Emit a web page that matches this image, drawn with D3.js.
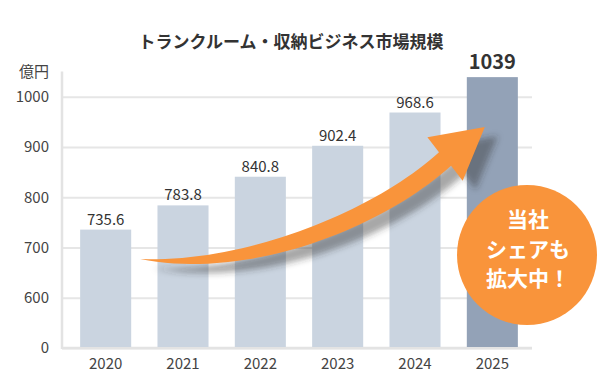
<!DOCTYPE html>
<html>
<head>
<meta charset="utf-8">
<script src="https://cdn.jsdelivr.net/npm/d3@7"></script>
<style>
body { margin: 0; background: #fff; }
svg { display: block; font-family: "Noto Sans CJK JP", "Noto Sans", sans-serif; }
</style>
</head>
<body>
<svg width="601" height="388"></svg>
<script>
//*
//* Data
//*

var years = ["2020", "2021", "2022", "2023", "2024", "2025"];
var values = [735.6, 783.8, 840.8, 902.4, 968.6, 1039];
var valueLabels = ["735.6", "783.8", "840.8", "902.4", "968.6", "1039"];
var yTicks = [500, 600, 700, 800, 900, 1000];
var yTickLabels = ["0", "600", "700", "800", "900", "1000"];
var title = "トランクルーム・収納ビジネス市場規模";
var unit = "億円";
var badgeLines = ["当社", "シェアも", "拡大中！"];

//*
//* Scales
//*

var svg = d3.select("svg");
var plotLeft = 62, plotRight = 532, plotBottom = 348, plotTop = 71.6;

var x = d3.scaleBand()
	.domain(years)
	.range([67, 531])
	.paddingInner(0.34)
	.paddingOuter(0.17);

var y = d3.scaleLinear()
	.domain([500, 1050])
	.range([plotBottom, plotTop]);

/* title */
svg.append("text")
	.attr("x", 291)
	.attr("y", 48)
	.attr("text-anchor", "middle")
	.attr("font-size", 17)
	.attr("font-weight", 700)
	.attr("fill", "#333")
	.text(title);

/* unit */
svg.append("text")
	.attr("x", 49)
	.attr("y", 77)
	.attr("text-anchor", "end")
	.attr("font-size", 15)
	.attr("fill", "#444")
	.text(unit);

/* y axis with gridlines */
var yAxis = svg.append("g")
	.attr("transform", "translate(" + plotLeft + ",0)")
	.call(d3.axisLeft(y)
		.tickValues(yTicks)
		.tickSize(-(plotRight - plotLeft))
		.tickPadding(13)
		.tickFormat(function(d, i) { return yTickLabels[i]; }));
yAxis.select(".domain").remove();
yAxis.selectAll(".tick line")
	.attr("stroke", "#e6e6e6")
	.attr("stroke-width", 2);
yAxis.selectAll(".tick text")
	.attr("font-family", "'Noto Sans CJK JP', 'Noto Sans', sans-serif")
	.attr("font-size", 15)
	.attr("fill", "#444");

/* left axis line and baseline */
svg.append("line")
	.attr("x1", plotLeft).attr("x2", plotLeft)
	.attr("y1", plotTop).attr("y2", plotBottom + 1)
	.attr("stroke", "#e3e3e3")
	.attr("stroke-width", 2.5);
svg.append("line")
	.attr("x1", plotLeft).attr("x2", plotRight)
	.attr("y1", plotBottom).attr("y2", plotBottom)
	.attr("stroke", "#e3e3e3")
	.attr("stroke-width", 2.5);

/* bars */
svg.selectAll("rect.bar")
	.data(values)
	.enter()
	.append("rect")
	.attr("class", "bar")
	.attr("x", function(d, i) { return x(years[i]); })
	.attr("y", function(d) { return y(d); })
	.attr("width", x.bandwidth())
	.attr("height", function(d) { return plotBottom - 1 - y(d); })
	.attr("fill", function(d, i) { return i === years.length - 1 ? "#93a2b7" : "#cad4e0"; });

/* value labels */
svg.selectAll("text.val")
	.data(values)
	.enter()
	.append("text")
	.attr("class", "val")
	.attr("x", function(d, i) { return x(years[i]) + x.bandwidth() / 2; })
	.attr("y", function(d, i) { return y(d) - (i === years.length - 1 ? 8 : 5); })
	.attr("text-anchor", "middle")
	.attr("font-size", function(d, i) { return i === years.length - 1 ? 20 : 15; })
	.attr("font-weight", function(d, i) { return i === years.length - 1 ? 700 : 400; })
	.attr("fill", "#333")
	.text(function(d, i) { return valueLabels[i]; });

/* year labels */
svg.selectAll("text.year")
	.data(years)
	.enter()
	.append("text")
	.attr("class", "year")
	.attr("x", function(d) { return x(d) + x.bandwidth() / 2; })
	.attr("y", 369)
	.attr("text-anchor", "middle")
	.attr("font-size", 15)
	.attr("fill", "#444")
	.text(function(d) { return d; });

//*
//* Arrow (decoration)
//*

function bez(p0, p1, p2, p3, t) {
	var u = 1 - t;
	return [
		u*u*u*p0[0] + 3*u*u*t*p1[0] + 3*u*t*t*p2[0] + t*t*t*p3[0],
		u*u*u*p0[1] + 3*u*u*t*p1[1] + 3*u*t*t*p2[1] + t*t*t*p3[1]
	];
}

var tail = [x("2020") + x.bandwidth() + 9, y(677)];
var tip = [x("2025") + 18, y(940)];
var dir = [0.78, -0.63];
var perp = [-0.63, -0.78];
var base = [tip[0] - dir[0] * 51, tip[1] - dir[1] * 51];
var c1 = [250, 272], c2 = [380, 218];

var upper = [], lower = [];
var n = 40;
for (var i = 0; i <= n; i++) {
	var t = i / n;
	var p = bez(tail, c1, c2, base, t);
	var q = bez(tail, c1, c2, base, Math.min(1, t + 0.001));
	var r = bez(tail, c1, c2, base, Math.max(0, t - 0.001));
	var dx = q[0] - r[0], dy = q[1] - r[1];
	var len = Math.sqrt(dx*dx + dy*dy);
	var nx = dy / len, ny = -dx / len;
	var w = 9 * (1 - Math.pow(1 - t, 3));
	upper.push([p[0] + nx * w, p[1] + ny * w]);
	lower.push([p[0] - nx * w, p[1] - ny * w]);
}
var head = [
	[base[0] + perp[0] * 28, base[1] + perp[1] * 28],
	tip,
	[base[0] - perp[0] * 28, base[1] - perp[1] * 28]
];
var arrowPts = upper.concat(head).concat(lower.reverse());

var defs = svg.append("defs");
defs.append("filter")
	.attr("id", "blur")
	.attr("x", "-20%").attr("y", "-20%")
	.attr("width", "140%").attr("height", "140%")
	.append("feGaussianBlur")
	.attr("stdDeviation", 3);

svg.append("path")
	.attr("d", d3.line()(arrowPts) + "Z")
	.attr("transform", "translate(13,9)")
	.attr("fill", "#333")
	.attr("fill-opacity", 0.42)
	.attr("filter", "url(#blur)");

svg.append("path")
	.attr("d", d3.line()(arrowPts) + "Z")
	.attr("fill", "#f9943b");

//*
//* Badge
//*

svg.append("circle")
	.attr("cx", 527)
	.attr("cy", 255)
	.attr("r", 70)
	.attr("fill", "#f9943b");

svg.selectAll("text.badge")
	.data(badgeLines)
	.enter()
	.append("text")
	.attr("class", "badge")
	.attr("x", 528)
	.attr("y", function(d, i) { return 227 + i * 29.5; })
	.attr("text-anchor", "middle")
	.attr("font-size", 21)
	.attr("font-weight", 700)
	.attr("fill", "#fff")
	.text(function(d) { return d; });
</script>
</body>
</html>
